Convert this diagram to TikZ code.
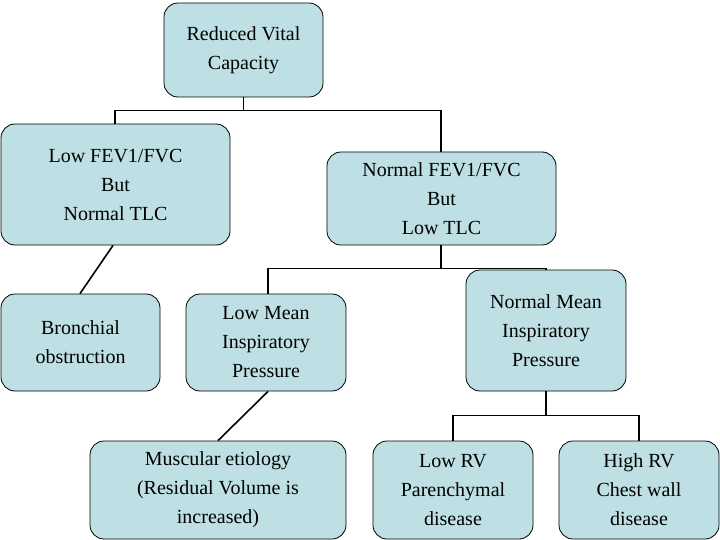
\documentclass[tikz,border=0pt]{standalone}
\usepackage{fontspec}
\setmainfont{Liberation Serif}
\begin{document}
\begin{tikzpicture}[x=1pt,y=-1pt,
  box/.style={draw=black,fill=boxc,rounded corners=14pt,line width=0.8pt,align=center,
    inner sep=0pt,font=\fontsize{20}{29}\selectfont},
  ln/.style={line width=1.6pt}]
\definecolor{boxc}{HTML}{BEE0E4}
\useasboundingbox (0,0) rectangle (720,540);
\newcommand\bx[6]{\node[box,minimum width=#4-#2,minimum height=#5-#3] (#1) at ({(#2+#4)/2},{(#3+#5)/2}) {#6};}
\bx{rvc}{164}{3}{323}{97}{Reduced Vital\\Capacity}
\bx{lf}{1}{124}{230}{245}{Low FEV1/FVC\\But\\Normal TLC}
\bx{nf}{327}{152}{556}{245}{Normal FEV1/FVC\\But\\Low TLC}
\bx{bo}{1}{294}{160}{391}{Bronchial\\obstruction}
\bx{lm}{186}{294}{346}{391}{Low Mean\\Inspiratory\\Pressure}
\bx{nm}{466}{270}{626}{391}{Normal Mean\\Inspiratory\\Pressure}
\bx{me}{90}{441}{346}{539}{Muscular etiology\\(Residual Volume is\\increased)}
\bx{lr}{373}{441}{533}{539}{Low RV\\Parenchymal\\disease}
\bx{hr}{559}{441}{719}{539}{High RV\\Chest wall\\disease}
\draw[ln] (rvc.south) -- ++(0,13) -| (lf.north -| 115,0);
\draw[ln] (rvc.south) -- ++(0,13) -| (nf.north -| 441,0);
\draw[ln] (nf.south -| 441,0) -- ++(0,23) -| (lm.north -| 268,0);
\draw[ln] (nf.south -| 441,0) -- ++(0,23) -| (nm.north -| 546,0);
\draw[ln] (nm.south) -- ++(0,24) -| (lr.north);
\draw[ln] (nm.south) -- ++(0,24) -| (hr.north);
\draw[ln] (lf.south -| 113,0) -- (bo.north -| 80,0);
\draw[ln] (lm.south -| 268,0) -- (me.north -| 218,0);
\end{tikzpicture}
\end{document}
